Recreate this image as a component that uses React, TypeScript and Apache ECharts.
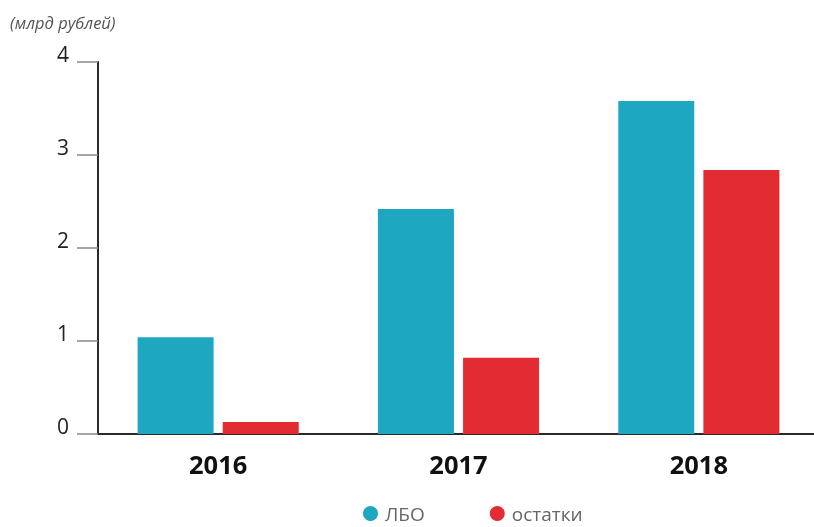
import React, { useEffect, useRef } from "react";
import * as echarts from "echarts";

const categories = ["2016", "2017", "2018"];
const lboValues = [1.04, 2.42, 3.58];
const ostatkiValues = [0.13, 0.82, 2.84];
const seriesNames = ["ЛБО", "остатки"];
const unitTitle = "(млрд рублей)";

export default function App() {
  const ref = useRef<HTMLDivElement>(null);
  useEffect(() => {
    if (!ref.current) return;
    const chart = echarts.init(ref.current, undefined, { renderer: "svg" });
    const font = "'Open Sans', 'Noto Sans', sans-serif";
    chart.setOption({
      animation: false,
      textStyle: { fontFamily: font },
      title: {
        text: unitTitle,
        left: 5,
        top: 9,
        textStyle: { fontSize: 16.5, fontStyle: "italic", fontWeight: "normal", color: "#555", fontFamily: font },
      },
      legend: {
        top: 504,
        left: 358,
        icon: "circle",
        itemWidth: 15,
        itemHeight: 15,
        itemGap: 65,
        padding: [0, 5],
        data: seriesNames,
        textStyle: { fontSize: 19, lineHeight: 18, color: "#666", fontFamily: font, padding: [0, 0, 0, 2] },
      },
      grid: { left: 98, width: 721, top: 62, height: 372, containLabel: false },
      xAxis: {
        type: "category",
        data: categories,
        axisLine: { lineStyle: { color: "#2a2a2a", width: 2 } },
        axisTick: { inside: true, length: 6, lineStyle: { color: "#555", width: 1 } },
        axisLabel: { fontSize: 25.5, fontWeight: "bold", color: "#111", margin: 17, fontFamily: font },
      },
      yAxis: {
        type: "value",
        min: 0,
        max: 4,
        interval: 1,
        splitLine: { show: false },
        axisLine: { show: true, lineStyle: { color: "#2a2a2a", width: 2 } },
        axisTick: { show: true, length: 21, lineStyle: { color: "#888", width: 1.5 } },
        axisLabel: {
          fontSize: 21,
          color: "#222",
          margin: 29,
          verticalAlign: "bottom",
          lineHeight: 16,
          fontFamily: font,
        },
      },
      series: [
        {
          name: seriesNames[0],
          type: "bar",
          data: lboValues,
          barWidth: 76,
          barGap: "12%",
          itemStyle: { color: "#1EA7C1" },
        },
        {
          name: seriesNames[1],
          type: "bar",
          data: ostatkiValues,
          barWidth: 76,
          itemStyle: { color: "#E32B32" },
        },
      ],
    });
    return () => chart.dispose();
  }, []);
  return (
    <div style={{ position: "fixed", left: 0, top: 0, width: 814, height: 527, overflow: "hidden" }}>
      <div ref={ref} style={{ width: 830, height: 527 }} />
    </div>
  );
}
